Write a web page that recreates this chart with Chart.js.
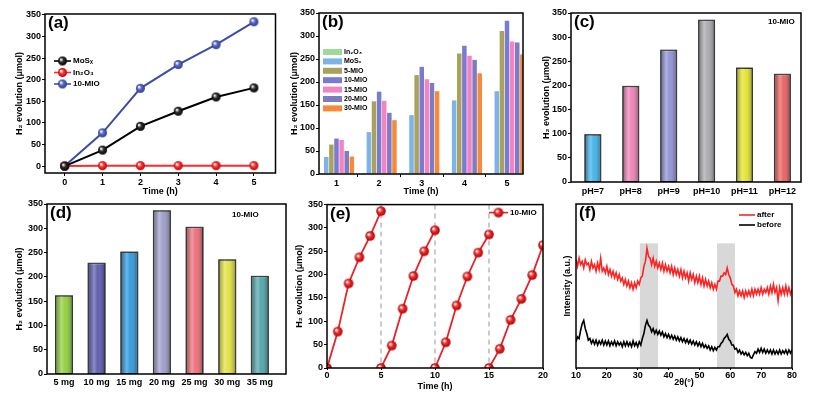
<!DOCTYPE html>
<html>
<head>
<meta charset="utf-8">
<script src="https://cdn.jsdelivr.net/npm/chart.js@4.4.1/dist/chart.umd.min.js"></script>
<style>
  body { margin: 0; background: #fff; width: 814px; height: 395px; position: relative; overflow: hidden; }
  canvas { position: absolute; }
</style>
</head>
<body>
<canvas id="ca" width="282" height="198" style="left:0;top:0"></canvas>
<canvas id="cb" width="258" height="198" style="left:282px;top:0"></canvas>
<canvas id="cc" width="274" height="198" style="left:540px;top:0"></canvas>
<canvas id="cd" width="292" height="197" style="left:0;top:198px"></canvas>
<canvas id="ce" width="258" height="197" style="left:292px;top:198px"></canvas>
<canvas id="cf" width="264" height="197" style="left:550px;top:198px"></canvas>
<script>
// ---- data ----
const hTicks = [0, 50, 100, 150, 200, 250, 300, 350];

// (a) H2 evolution vs time
const aHours = [0, 1, 2, 3, 4, 5];
const aMoSx = [0, 37, 92, 127, 160, 181];
const aIn2O3 = [0, 1, 1, 1, 1, 1];
const aMIO10 = [0, 77, 180, 235, 281, 334];

// (b) loading series
const bHours = [1, 2, 3, 4, 5];
const bIn2O3 = [0.5, 0.5, 0.5, 0.5, 0.5];
const bMoSx = [37, 91, 128, 160, 180];
const bMIO5 = [64, 158, 215, 262, 311];
const bMIO10 = [77, 179, 233, 279, 333];
const bMIO15 = [74, 159, 206, 257, 288];
const bMIO20 = [50, 133, 198, 248, 286];
const bMIO30 = [38, 117, 180, 219, 260];

// (c) pH
const cLabels = ['pH=7', 'pH=8', 'pH=9', 'pH=10', 'pH=11', 'pH=12'];
const cValues = [98, 198, 273, 335, 236, 223];

// (d) catalyst dosage
const dLabels = ['5 mg', '10 mg', '15 mg', '20 mg', '25 mg', '30 mg', '35 mg'];
const dValues = [161, 228, 251, 336, 302, 235, 201];

// (e) cycling
const eHours = [0, 1, 2, 3, 4, 5];
const eCycleStart = [0, 5, 10, 15];
const eCycle1 = [0, 78, 181, 237, 283, 336];
const eCycle2 = [0, 48, 127, 197, 250, 295];
const eCycle3 = [0, 55, 134, 196, 247, 286];
const eCycle4 = [0, 41, 103, 148, 199, 263];
const eTicks = [0, 5, 10, 15, 20];

// (f) XRD, 2theta from 10 to 80 every 0.5 deg
const fThetaStart = 10, fThetaStep = 0.5;
const fAfter = [
  66, 62, 67, 63, 65, 61, 66, 63, 64, 60,
  65, 61, 63, 59, 64, 60, 67, 59, 61, 58,
  62, 57, 60, 56, 59, 55, 58, 54, 57, 53,
  55, 51, 54, 50, 53, 49, 52, 48, 52, 49,
  53, 51, 55, 56, 62, 65, 73, 68, 67, 63,
  67, 62, 65, 61, 64, 60, 64, 59, 63, 59,
  62, 58, 62, 57, 61, 57, 60, 56, 60, 55,
  59, 55, 58, 53, 58, 54, 57, 52, 56, 52,
  56, 51, 55, 50, 54, 50, 53, 49, 52, 48,
  51, 48, 53, 53, 56, 56, 58, 57, 61, 57,
  55, 51, 50, 46, 48, 44, 47, 44, 47, 43,
  47, 44, 47, 44, 48, 44, 48, 45, 48, 45,
  49, 45, 48, 46, 49, 45, 50, 46, 51, 46,
  49, 41, 49, 45, 49, 45, 50, 45, 49, 45,
  48
];
const fBefore = [
  16, 19, 18, 23, 27, 29, 24, 21, 17, 18,
  15, 17, 14.5, 17, 14, 16.5, 14.5, 17, 14, 16.5,
  14, 16.5, 13.5, 16, 14, 16.5, 13.5, 16, 14, 15.5,
  13, 16, 13.5, 16, 13.5, 15.5, 13, 16.5, 13.5, 15.5,
  13, 16, 14, 18, 21, 26, 29, 26, 25, 22,
  24, 21, 23, 20.5, 22.5, 20, 22, 19, 21, 18.5,
  20.5, 18, 20, 17.5, 19.5, 17, 19, 16.5, 18.5, 16,
  18, 15.5, 17.5, 15, 17, 14.5, 16.5, 14, 16, 13.5,
  15.5, 13, 15, 12.5, 14, 12, 13.5, 11, 13, 10.5,
  12.5, 11, 13, 13, 15, 16, 18, 19, 20.5, 17.5,
  16.5, 14, 14, 11.5, 12, 9.5, 11, 8.5, 10, 8,
  9.5, 7.5, 9, 6.5, 6, 8, 10, 9, 11.5, 9.5,
  12, 9.5, 11.5, 9, 11, 9, 11, 8.5, 11, 8.5,
  10.5, 8.5, 11, 8.5, 10.5, 9, 11, 8.5, 11, 9,
  11
];
const fBands = [[30.7, 36.6], [55.7, 61.5]];
const fTicks = [10, 20, 30, 40, 50, 60, 70, 80];

// ---- look ----
const FONT = "'Liberation Sans', Arial, sans-serif";
const YTITLE = 'H₂ evolution (μmol)';
Chart.defaults.font.family = FONT;
Chart.defaults.font.size = 9;
Chart.defaults.font.weight = 'bold';
Chart.defaults.color = '#000';
Chart.defaults.animation = false;
Chart.defaults.plugins.legend.display = false;
Chart.defaults.plugins.tooltip.enabled = false;

// shiny ball markers like the original
function sphere(color, edge, r) {
  const c = document.createElement('canvas');
  const s = Math.ceil(r * 2 + 2);
  c.width = c.height = s;
  const g = c.getContext('2d');
  const m = s / 2;
  const grad = g.createRadialGradient(m - r * 0.35, m - r * 0.35, r * 0.1, m, m, r);
  grad.addColorStop(0, '#ffffff');
  grad.addColorStop(0.4, color);
  grad.addColorStop(1, edge);
  g.fillStyle = grad;
  g.beginPath();
  g.arc(m, m, r, 0, Math.PI * 2);
  g.fill();
  return c;
}
const ballBlack = sphere('#333', '#000', 4.5);
const ballRed = sphere('#ff3a3a', '#c00000', 4.5);
const ballBlue = sphere('#5c6cc8', '#2c3a8c', 4.5);
const ballRedE = sphere('#f03030', '#b00000', 4.8);

// frame, panel tag, notes, inside legends, bands, dashed lines, bar shading
const decor = {
  id: 'decor',
  beforeDatasetsDraw(chart, args, o) {
    const { ctx, chartArea: a, scales: { x, y } } = chart;
    ctx.save();
    (o.bands || []).forEach(([b0, b1]) => {
      const top = y.getPixelForValue(o.bandTop);
      const x0 = x.getPixelForValue(b0), x1 = x.getPixelForValue(b1);
      ctx.fillStyle = '#d8d8d8';
      ctx.fillRect(x0, top, x1 - x0, a.bottom - top);
    });
    (o.vlines || []).forEach(v => {
      const px = x.getPixelForValue(v);
      ctx.strokeStyle = '#a8a8a8';
      ctx.lineWidth = 1.2;
      ctx.setLineDash([5, 4]);
      ctx.beginPath();
      ctx.moveTo(px, a.top);
      ctx.lineTo(px, a.bottom);
      ctx.stroke();
    });
    ctx.restore();
  },
  afterDatasetsDraw(chart, args, o) {
    if (!o.shade) return;
    const ctx = chart.ctx;
    ctx.save();
    chart.data.datasets.forEach((ds, i) => {
      chart.getDatasetMeta(i).data.forEach(bar => {
        const l = bar.x - bar.width / 2;
        const g = ctx.createLinearGradient(l, 0, l + bar.width, 0);
        g.addColorStop(0, 'rgba(0,0,0,0.30)');
        g.addColorStop(0.35, 'rgba(255,255,255,0.30)');
        g.addColorStop(0.55, 'rgba(255,255,255,0.05)');
        g.addColorStop(1, 'rgba(0,0,0,0.35)');
        ctx.fillStyle = g;
        ctx.fillRect(l, bar.y, bar.width, bar.base - bar.y);
        ctx.strokeStyle = '#333';
        ctx.lineWidth = 1;
        ctx.strokeRect(l, bar.y, bar.width, bar.base - bar.y);
      });
    });
    ctx.restore();
  },
  afterDraw(chart, args, o) {
    const { ctx, chartArea: a } = chart;
    ctx.save();
    ctx.strokeStyle = '#000';
    ctx.lineWidth = 1.5;
    ctx.strokeRect(a.left, a.top, a.right - a.left, a.bottom - a.top);
    ctx.fillStyle = '#000';
    if (o.tag) {
      ctx.font = 'bold 17px ' + FONT;
      ctx.textBaseline = 'top';
      ctx.fillText(o.tag, a.left + 3, a.top + 1);
    }
    if (o.note) {
      ctx.font = 'bold 8px ' + FONT;
      ctx.textBaseline = 'middle';
      ctx.fillText(o.note.text, a.left + o.note.dx, a.top + o.note.dy);
    }
    const lg = o.legend;
    if (lg) {
      lg.items.forEach((it, i) => {
        const yy = a.top + lg.dy + i * lg.gap;
        const x0 = a.left + lg.dx;
        if (lg.box) {
          ctx.fillStyle = it.color;
          ctx.fillRect(x0, yy - 3, lg.w, 6);
        } else {
          ctx.strokeStyle = it.color;
          ctx.lineWidth = 1.6;
          ctx.beginPath();
          ctx.moveTo(x0, yy);
          ctx.lineTo(x0 + lg.w, yy);
          ctx.stroke();
          if (it.img) ctx.drawImage(it.img, x0 + lg.w / 2 - it.img.width / 2, yy - it.img.height / 2);
        }
        ctx.fillStyle = '#000';
        ctx.font = 'bold ' + (lg.size || 8) + 'px ' + FONT;
        ctx.textBaseline = 'middle';
        ctx.fillText(it.label, x0 + lg.w + 2, yy);
      });
    }
    ctx.restore();
  }
};
Chart.register(decor);

// fixed plot boxes so panels line up like the figure
function fitY(box, plot) {
  return s => { s.width = plot.l - box.x; s.paddingTop = 0; s.paddingBottom = 0; };
}
function fitX(box, plot) {
  return s => { s.height = box.y + box.h - plot.b; s.paddingLeft = 0; s.paddingRight = 0; };
}
function pad(box, plot) {
  return { top: plot.t - box.y, right: box.x + box.w - plot.r, left: 0, bottom: 0 };
}
function setTicks(vals) {
  return s => { s.ticks = vals.map(v => ({ value: v })); };
}
const tickGrid = { drawOnChartArea: false, color: '#000', tickLength: 3 };
const noGrid = { display: false, drawTicks: false };
const flat = { maxRotation: 0, minRotation: 0, autoSkip: false };

// ---- (a) ----
{
  const box = { x: 0, y: 0, w: 282, h: 198 };
  const plot = { l: 45, t: 14, r: 278, b: 173 };
  const line = (label, vals, color, img) => ({
    label, data: aHours.map((t, i) => ({ x: t, y: vals[i] })),
    borderColor: color, borderWidth: 2, pointStyle: img, pointRadius: 4.5
  });
  new Chart(document.getElementById('ca'), {
    type: 'line',
    data: { datasets: [
      line('MoSₓ', aMoSx, '#000', ballBlack),
      line('In₂O₃', aIn2O3, '#ff2a2a', ballRed),
      line('10-MIO', aMIO10, '#3d4ca6', ballBlue)
    ] },
    options: {
      responsive: false,
      layout: { padding: pad(box, plot) },
      scales: {
        x: { type: 'linear', min: -0.52, max: 5.57, border: { display: false }, grid: tickGrid,
             ticks: { ...flat, padding: 1 }, afterBuildTicks: setTicks(aHours), afterFit: fitX(box, plot),
             title: { display: true, text: 'Time (h)', padding: { top: 0, bottom: 1 } } },
        y: { min: -16, max: 352, border: { display: false }, grid: tickGrid,
             ticks: { padding: 1 }, afterBuildTicks: setTicks(hTicks), afterFit: fitY(box, plot),
             title: { display: true, text: YTITLE, padding: { top: 14.6, bottom: 0 } } }
      },
      plugins: { decor: { tag: '(a)', legend: { dx: 9, dy: 47, gap: 11.5, w: 17, items: [
        { label: 'MoSₓ', color: '#000', img: ballBlack },
        { label: 'In₂O₃', color: '#ff2a2a', img: ballRed },
        { label: '10-MIO', color: '#3d4ca6', img: ballBlue }
      ] } } }
    }
  });
}

// ---- (b) ----
{
  const box = { x: 282, y: 0, w: 258, h: 198 };
  const plot = { l: 319, t: 13, r: 523, b: 174 };
  const series = [
    ['In₂O₃', bIn2O3, '#9edb98'],
    ['MoSₓ', bMoSx, '#7db3e6'],
    ['5-MIO', bMIO5, '#a9a25e'],
    ['10-MIO', bMIO10, '#7a7ad0'],
    ['15-MIO', bMIO15, '#f283c4'],
    ['20-MIO', bMIO20, '#7c7cc2'],
    ['30-MIO', bMIO30, '#f68a3a']
  ];
  new Chart(document.getElementById('cb'), {
    type: 'bar',
    data: { datasets: series.map(([label, vals, color]) => ({
      label, data: bHours.map((t, i) => ({ x: t, y: vals[i] })),
      backgroundColor: color, categoryPercentage: 0.84, barPercentage: 0.88
    })) },
    options: {
      responsive: false,
      layout: { padding: pad(box, plot) },
      scales: {
        x: { type: 'linear', offset: false, min: 0.59, max: 5.375, border: { display: false }, grid: tickGrid,
             ticks: { ...flat, padding: 1 }, afterBuildTicks: setTicks(bHours), afterFit: fitX(box, plot),
             title: { display: true, text: 'Time (h)', padding: { top: 0, bottom: 1 } } },
        y: { min: 0, max: 350, border: { display: false }, grid: tickGrid,
             ticks: { padding: 1 }, afterBuildTicks: setTicks(hTicks), afterFit: fitY(box, plot),
             title: { display: true, text: YTITLE, padding: { top: 7.6, bottom: 0 } } }
      },
      plugins: { decor: { tag: '(b)', legend: { box: true, size: 7, dx: 4, dy: 39, gap: 9.4, w: 19,
        items: series.map(([label, , color]) => ({ label, color })) } } }
    }
  });
}

// ---- (c) ----
{
  const box = { x: 540, y: 0, w: 274, h: 198 };
  const plot = { l: 571, t: 13, r: 801, b: 182 };
  const colors = ['#3fb3ea', '#ef80b6', '#8f90d6', '#a9a9ae', '#e4e42c', '#e8605e'];
  new Chart(document.getElementById('cc'), {
    type: 'bar',
    data: { datasets: [{
      data: cValues.map((v, i) => ({ x: i + 1, y: v })),
      backgroundColor: colors, borderColor: '#333', borderWidth: 1,
      categoryPercentage: 1, barPercentage: 0.42
    }] },
    options: {
      responsive: false,
      layout: { padding: pad(box, plot) },
      scales: {
        x: { type: 'linear', offset: false, min: 0.425, max: 6.49, border: { display: false },
             grid: noGrid, ticks: { ...flat, padding: 4.6, callback: v => cLabels[v - 1] },
             afterBuildTicks: setTicks([1, 2, 3, 4, 5, 6]), afterFit: fitX(box, plot) },
        y: { min: 0, max: 350, border: { display: false }, grid: tickGrid,
             ticks: { padding: 1 }, afterBuildTicks: setTicks(hTicks), afterFit: fitY(box, plot),
             title: { display: true, text: YTITLE, padding: { top: 1.6, bottom: 0 } } }
      },
      plugins: { decor: { tag: '(c)', shade: true, note: { text: '10-MIO', dx: 197, dy: 9 } } }
    }
  });
}

// ---- (d) ----
{
  const box = { x: 0, y: 198, w: 292, h: 197 };
  const plot = { l: 47, t: 204, r: 286, b: 374 };
  const colors = ['#8fcf3a', '#5a5aae', '#2e98dc', '#9c9cc8', '#ec6c78', '#e2e23e', '#4fa4a8'];
  new Chart(document.getElementById('cd'), {
    type: 'bar',
    data: { datasets: [{
      data: dValues.map((v, i) => ({ x: i + 1, y: v })),
      backgroundColor: colors, borderColor: '#333', borderWidth: 1,
      categoryPercentage: 1, barPercentage: 0.52
    }] },
    options: {
      responsive: false,
      layout: { padding: pad(box, plot) },
      scales: {
        x: { type: 'linear', offset: false, min: 0.48, max: 7.8, border: { display: false },
             grid: noGrid, ticks: { ...flat, padding: 3.6, callback: v => dLabels[v - 1] },
             afterBuildTicks: setTicks([1, 2, 3, 4, 5, 6, 7]), afterFit: fitX(box, plot) },
        y: { min: 0, max: 350, border: { display: false }, grid: tickGrid,
             ticks: { padding: 1 }, afterBuildTicks: setTicks(hTicks), afterFit: fitY(box, plot),
             title: { display: true, text: YTITLE, padding: { top: 14.6, bottom: 0 } } }
      },
      plugins: { decor: { tag: '(d)', shade: true, note: { text: '10-MIO', dx: 185, dy: 11 } } }
    }
  });
}

// ---- (e) ----
{
  const box = { x: 292, y: 198, w: 258, h: 197 };
  const plot = { l: 327, t: 204, r: 543, b: 368 };
  const cycles = [eCycle1, eCycle2, eCycle3, eCycle4];
  new Chart(document.getElementById('ce'), {
    type: 'line',
    data: { datasets: cycles.map((vals, k) => ({
      label: '10-MIO', data: eHours.map((h, i) => ({ x: eCycleStart[k] + h, y: vals[i] })),
      borderColor: '#e8222a', borderWidth: 1.8, pointStyle: ballRedE, pointRadius: 4.8
    })) },
    options: {
      responsive: false,
      layout: { padding: pad(box, plot) },
      scales: {
        x: { type: 'linear', min: 0, max: 20, border: { display: false }, grid: { ...tickGrid, tickLength: 2 },
             ticks: { ...flat, padding: 0 }, afterBuildTicks: setTicks(eTicks), afterFit: fitX(box, plot),
             title: { display: true, text: 'Time (h)', padding: { top: 0, bottom: 2.6 } } },
        y: { min: 0, max: 350, border: { display: false }, grid: tickGrid,
             ticks: { padding: 1 }, afterBuildTicks: setTicks(hTicks), afterFit: fitY(box, plot),
             title: { display: true, text: YTITLE, padding: { top: 2.6, bottom: 0 } } }
      },
      plugins: { decor: { tag: '(e)', vlines: [5, 10, 15],
        legend: { dx: 162, dy: 8, gap: 10, w: 19, items: [{ label: '10-MIO', color: '#e8222a', img: ballRedE }] } } }
    }
  });
}

// ---- (f) ----
{
  const box = { x: 550, y: 198, w: 264, h: 197 };
  const plot = { l: 576, t: 204, r: 792, b: 368 };
  const xrd = (label, vals, color) => ({
    label, data: vals.map((v, i) => ({ x: fThetaStart + i * fThetaStep, y: v })),
    borderColor: color, borderWidth: 1.6, pointRadius: 0
  });
  new Chart(document.getElementById('cf'), {
    type: 'line',
    data: { datasets: [xrd('after', fAfter, '#ff2222'), xrd('before', fBefore, '#000')] },
    options: {
      responsive: false,
      layout: { padding: pad(box, plot) },
      scales: {
        x: { type: 'linear', min: 10, max: 80, border: { display: false }, grid: { ...tickGrid, tickLength: 2 },
             ticks: { ...flat, padding: 0 }, afterBuildTicks: setTicks(fTicks), afterFit: fitX(box, plot),
             title: { display: true, text: '2θ(°)', padding: { top: 0, bottom: 6.6 } } },
        y: { min: 0, max: 100, border: { display: false }, grid: noGrid,
             ticks: { display: false }, afterFit: fitY(box, plot),
             title: { display: true, text: 'Intensity (a.u.)', padding: { top: 12.6, bottom: 0 } } }
      },
      plugins: { decor: { tag: '(f)', bands: fBands, bandTop: 76,
        legend: { dx: 163, dy: 11, gap: 10, w: 16, items: [
          { label: 'after', color: '#ff2222' },
          { label: 'before', color: '#000' }
        ] } } }
    }
  });
}
</script>
</body>
</html>
